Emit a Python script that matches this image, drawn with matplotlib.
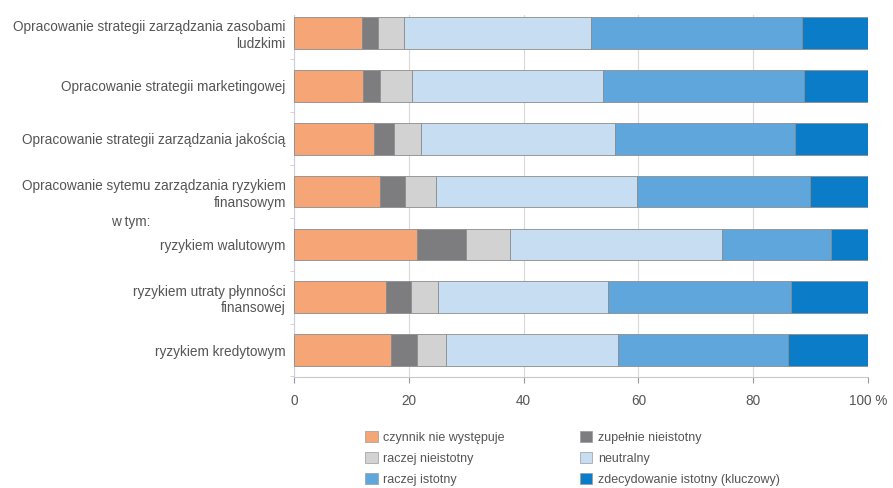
import matplotlib.pyplot as plt
import numpy as np
from matplotlib.patches import Patch

plt.rcParams["font.family"] = ["Liberation Sans", "DejaVu Sans"]

CATEGORIES = [
    "Opracowanie strategii zarządzania zasobami\nludzkimi",
    "Opracowanie strategii marketingowej",
    "Opracowanie strategii zarządzania jakością",
    "Opracowanie sytemu zarządzania ryzykiem\nfinansowym",
    "ryzykiem walutowym",
    "ryzykiem utraty płynności\nfinansowej",
    "ryzykiem kredytowym",
]

SERIES_NAMES = [
    "czynnik nie występuje",
    "zupełnie nieistotny",
    "raczej nieistotny",
    "neutralny",
    "raczej istotny",
    "zdecydowanie istotny (kluczowy)",
]

czynnik_nie_wystepuje = [11.9, 12.1, 14.0, 15.0, 21.5, 16.1, 16.9]
zupelnie_nieistotny = [2.8, 2.9, 3.4, 4.3, 8.4, 4.2, 4.6]
raczej_nieistotny = [4.5, 5.5, 4.8, 5.5, 7.8, 4.8, 4.9]
neutralny = [32.6, 33.3, 33.8, 34.9, 36.9, 29.6, 30.0]
raczej_istotny = [36.7, 35.1, 31.3, 30.2, 18.9, 31.9, 29.6]
zdecydowanie_istotny = [11.5, 11.1, 12.7, 10.1, 6.5, 13.4, 14.0]

X_TICKS = [0, 20, 40, 60, 80, 100]
X_TICK_LABELS = ["0", "20", "40", "60", "80", "100 %"]

COLORS = ["#f6a676", "#7d7d7f", "#d2d2d2", "#c6ddf2", "#5ea6dc", "#0a7cc8"]
TEXT_COLOR = "#555555"


def main():
    series = [
        czynnik_nie_wystepuje,
        zupelnie_nieistotny,
        raczej_nieistotny,
        neutralny,
        raczej_istotny,
        zdecydowanie_istotny,
    ]

    fig = plt.figure(figsize=(8.93, 4.88), dpi=100)
    ax = fig.add_axes([294 / 893, 1 - 377 / 488, 574 / 893, 362 / 488])

    y = np.arange(len(CATEGORIES))
    left = np.zeros(len(CATEGORIES))
    for values, color in zip(series, COLORS):
        values = np.asarray(values)
        ax.barh(y, values, left=left, height=0.6, color=color,
                edgecolor="#8c8c8c", linewidth=0.6, zorder=3)
        left += values

    ax.set_xticks(X_TICKS)
    ax.set_xticklabels(X_TICK_LABELS)
    ax.set_yticks(y)
    ax.set_yticklabels(CATEGORIES, ha="right", multialignment="right",
                       linespacing=1.25)
    # small separators on the left spine between categories
    ax.set_yticks(np.arange(len(CATEGORIES) + 1) - 0.5, minor=True)
    ax.set_xlim(0, 100)
    ax.set_ylim(6.51, -0.34)

    ax.grid(axis="x", color="#d9d9d9", linewidth=0.8, zorder=0)
    for side in ("top", "right"):
        ax.spines[side].set_visible(False)
    ax.spines["left"].set_color("#c8cfe0")
    ax.spines["bottom"].set_color("#c8c8c8")
    ax.tick_params(axis="x", colors="#999999", labelcolor=TEXT_COLOR,
                   labelsize=9.8, length=4, pad=8)
    ax.tick_params(axis="y", which="major", length=0, labelcolor=TEXT_COLOR,
                   labelsize=9.8, pad=6)
    ax.tick_params(axis="y", which="minor", length=3, color="#e8c0c8")

    ax.text(-0.318, 3.57, "w tym:", transform=ax.get_yaxis_transform(),
            ha="left", va="center", fontsize=9.8, color=TEXT_COLOR)

    # row-major legend order
    order = [0, 2, 4, 1, 3, 5]
    handles = [Patch(facecolor=COLORS[i], edgecolor="#9a9a9a", linewidth=0.5)
               for i in order]
    labels = [SERIES_NAMES[i] for i in order]
    fig.legend(handles, labels, ncol=2, loc="upper left",
               bbox_to_anchor=(354 / 893, 1 - 420 / 488), frameon=False,
               fontsize=9, labelcolor=TEXT_COLOR, handlelength=1.0,
               handleheight=1.0, handletextpad=0.45, columnspacing=6.0,
               labelspacing=0.65)

    fig.savefig("out.png", dpi=100)


if __name__ == "__main__":
    main()
